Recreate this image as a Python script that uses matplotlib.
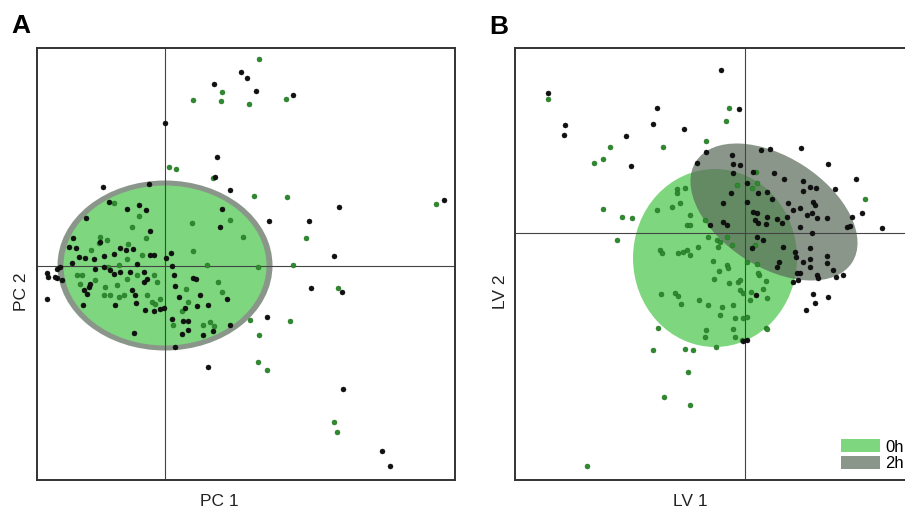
import matplotlib
matplotlib.use("Agg")
import matplotlib.pyplot as plt
from matplotlib.patches import Ellipse, Patch
import numpy as np

plt.rcParams['font.family'] = ['Liberation Sans', 'DejaVu Sans']

# ---------------- Panel A (PCA) data ----------------
pca_black_x = [7.6, 8.2, 4.9, 9.1, 12.8, 0.0, 5.2, 5.0, 6.5, 27.9, 17.4, 10.4, 14.4, 16.9, -6.2, -1.6,
               14.6, 17.7, 10.2, 4.3, 17.8, 21.7, 22.5, -11.8, -11.8, -11.7, -10.8, -10.3, -5.6, -2.6,
               -3.8, -1.9, -7.9, -1.5, -9.2, -9.6, -6.5, -4.5, -3.9, -3.2, -1.5, -1.1, -8.9, -8.6,
               -8.0, -7.1, -6.1, -5.1, -9.3, -2.8, 5.7, 5.5, 0.6, 0.1, 0.7, -11.0, -8.2, -5.0,
               -3.1, -2.9, -2.0, -1.1, -8.1, -7.6, -7.5, -7.8, -7.0, -6.1, -5.5, -5.1, -4.5, -3.5,
               -2.1, -1.8, -2.1, -3.3, -3.0, -0.5, -0.1, -10.8, -10.5, 0.9, 1.0, 1.4, 0.7, 1.8,
               2.3, 1.7, 2.3, 3.8, 4.8, 6.5, 1.0, 2.8, 3.1, 3.5, 3.2, 4.3, 6.2, 2.0]
pca_black_y = [19.4, 18.8, 18.2, 17.5, 17.1, 14.3, 10.9, 8.9, 7.6, 6.6, 5.9, 4.5, 4.5, 1.0, 7.9, 8.2,
               -2.2, -2.6, -5.1, -10.1, -12.3, -18.5, -20.0, -3.3, -0.7, -1.1, -1.2, -1.4, 6.4, 6.1,
               5.7, 5.6, 4.8, 3.5, 2.8, 1.9, 2.4, 1.8, 1.6, 1.7, 1.1, 1.1, 1.8, 0.9,
               0.8, 0.7, 1.0, 1.2, 0.3, 0.2, 5.7, 3.9, 1.3, 0.8, 0.0, -1.1, -3.9, -3.9,
               -6.7, -3.7, -4.4, -4.5, -2.4, -2.1, -1.8, -2.8, -0.3, -0.1, -0.4, -0.8, -0.6, -0.6,
               -0.6, -1.3, -1.6, -2.4, -2.9, -4.3, -4.2, -0.3, -0.1, -0.9, -2.0, -3.1, -5.3, -5.5,
               -5.5, -6.8, -6.4, -6.9, -6.5, -5.9, -8.1, -1.2, -1.3, -2.9, -4.0, -3.9, -3.3, -4.2]

pca_green_x = [9.4, 5.7, 2.8, 5.6, 8.4, 12.1, 0.4, 1.1, 4.8, 8.9, 12.2, 27.1, 14.1, 12.8, 9.3, 17.3,
               12.5, 8.5, 9.4, 9.3, 10.2, 16.9, 17.2, -5.1, -2.6, -3.3, -1.9, -6.5, -5.8, -6.6,
               -7.4, -3.7, -3.8, -2.3, -5.7, -4.6, 2.7, 6.5, 7.8, 2.8, 4.2, -8.8, -8.3, -8.5,
               -7.0, -6.0, -4.8, -3.8, -5.5, -4.6, -4.1, -6.1, -1.8, -1.3, -1.0, -0.5, -2.8, -1.1,
               -0.8, 2.1, 5.3, 5.7, 2.3, 1.7, 0.8, 3.8, 4.5, 4.9]
pca_green_y = [20.7, 17.4, 16.6, 16.5, 16.2, 16.7, 9.9, 9.7, 8.8, 7.0, 6.9, 6.2, 2.8, 0.1, -0.1, -2.2,
               -5.5, -5.4, -6.9, -9.6, -10.4, -15.6, -16.6, 6.3, 5.0, 3.9, 2.8, 2.9, 2.6, 2.3,
               1.6, 2.2, 0.7, 1.1, -0.1, 0.1, 4.3, 4.6, 2.9, 1.5, 0.1, -0.9, -0.9, -1.8,
               -1.4, -2.1, -1.9, -1.3, -2.9, -3.1, -2.9, -2.9, -2.9, -3.6, -3.8, -3.3, -0.9, -0.9,
               -1.6, -2.3, -1.6, -2.6, -3.6, -4.5, -5.9, -5.9, -5.6, -6.0]

# ellipses: (center x, center y, width, height, angle)
pca_ellipse_2h = (0.0, 0.05, 21.5, 17.0, 0)
pca_ellipse_0h = (0.0, 0.05, 20.3, 16.0, 0)

# ---------------- Panel B (PLS-DA) data ----------------
lv_black_x = [-2.4, -19.7, -8.8, -0.6, -18.0, -18.1, -9.2, -6.1, -11.9, -11.4, -3.9, -4.8, 1.6, 2.5,
              5.6, 8.3, 11.1, 13.7, 11.7, 10.7, 10.2, 10.5, -1.3, -1.2, -0.5, -1.2, 0.8, 0.2, 2.9,
              3.9, 5.8, 6.5, 7.1, 9.0, 1.3, 2.2, 5.8, 0.2, -1.4, -2.2, 2.7, 4.3, 4.8, 5.5, 6.8,
              7.0, 6.7, 6.2, 7.2, 8.2, 0.8, 1.2, 2.2, 3.2, 4.2, 1.3, 2.1, 3.7, 5.5, 6.7, -2.2,
              -1.8, -3.5, 1.8, 3.8, 5.0, 6.5, 0.7, 1.0, 1.2, 5.1, 6.5, 8.2, 8.2, 5.8, 6.5, 3.4,
              3.2, 8.8, 9.1, 9.8, 7.2, 7.3, 5.5, 5.2, 5.3, 4.8, 6.8, 7.0, 8.3, 6.1, 1.1, 0.2, -0.2]
lv_black_y = [16.3, 14.0, 12.5, 12.4, 10.8, 9.8, 10.9, 10.4, 9.7, 6.7, 8.1, 7.0, 8.3, 8.4,
              8.5, 6.9, 5.4, 0.5, 2.0, 1.6, 0.6, 0.7, 7.8, 6.9, 6.8, 6.0, 6.1, 5.0, 6.0,
              5.4, 5.2, 4.6, 4.5, 4.4, 4.0, 4.1, 4.2, 3.1, 4.0, 3.0, 3.4, 3.0, 2.3, 2.5, 3.1,
              2.8, 2.0, 1.8, 1.5, 1.5, 2.1, 2.0, 1.6, 1.4, 1.6, 1.0, 0.9, 1.0, 0.6, 0.0, 1.1,
              0.8, 0.8, -0.7, -1.4, -1.9, -1.5, -1.5, 1.3, -0.4, -2.4, -2.6, -2.3, -3.0, -2.9, -3.4, -2.9,
              -3.4, -3.7, -4.4, -4.2, -4.2, -4.5, -4.0, -4.0, -4.7, -4.9, -6.1, -7.0, -6.4, -7.7, -6.2, -10.7, -10.8]

lv_green_x = [-19.7, -1.6, -1.9, -3.9, -13.5, -8.2, -14.2, -15.1, 12.0, -14.2, -12.3, -11.3, -12.8,
              -8.8, -7.3, -6.5, -6.8, -6.8, -6.0, -0.8, -5.8, -5.5, -3.7, -2.8, -1.8, -8.5, -5.8,
              -5.5, -4.7, -4.0, -5.5, 1.1, 1.2, 0.7, 1.2, 1.4, 2.1, 1.8, 2.2, 2.1, 0.6, 0.5,
              -8.3, -6.2, -2.7, -2.5, -1.3, -3.2, -1.8, -1.7, -2.6, -3.1, -1.6, -0.7, -0.5, 1.0,
              0.2, 1.3, -8.4, -7.0, -6.7, -6.4, -4.6, -3.7, -2.3, -2.5, -1.2, -1.0, -0.2, 0.2,
              -0.5, -0.2, -8.7, -3.9, -4.0, -1.2, -1.0, -0.3, -9.2, -6.0, -5.2, -2.9, 2.2, -5.7,
              -8.1, -5.5, -15.8, -6.7]
lv_green_y = [13.4, 12.5, 11.2, 9.2, 8.6, 8.6, 7.4, 7.0, 3.4, 2.4, 1.6, 1.5, -0.7,
              2.3, 2.6, 3.0, 4.4, 4.0, 4.5, 4.8, 0.8, 0.8, -0.4, -0.7, -0.4, -1.7, -1.7,
              -2.2, -1.4, 1.3, 1.8, 6.1, 5.0, 4.5, -3.1, -4.2, -4.8, -5.6, -6.5, -9.5, -5.9, -6.7,
              -2.0, -1.9, -1.4, -0.9, -1.2, -2.8, -3.2, -3.5, -3.8, -4.6, -5.0, -4.9, -4.7, -1.2,
              -2.9, -4.0, -6.1, -6.0, -6.3, -7.1, -6.7, -7.2, -7.4, -8.2, -7.2, -8.5, -8.5, -8.4,
              -5.7, -6.0, -9.5, -9.7, -10.4, -9.6, -10.4, -10.7, -11.7, -11.6, -11.7, -11.4, -9.6, -13.9,
              -16.4, -17.2, -23.3, -2.0]

lv_ellipse_0h = (-3.0, -2.5, 16.4, 17.8, 0)
lv_ellipse_2h = (2.9, 2.1, 18.6, 11.0, -33)

legend_labels = ["0h", "2h"]

# ---------------- styling ----------------
GREEN_FILL = '#7ed67e'
DARK_FILL = '#5a6a5a'
DARK_ALPHA = 0.7
GREEN_PT = '#2e8a2e'
BLACK_PT = '#111111'

fig = plt.figure(figsize=(9.05, 5.12), dpi=100)
axA = fig.add_axes([37 / 905, 32 / 512, 418 / 905, 432 / 512])
axB = fig.add_axes([515 / 905, 32 / 512, 418 / 905, 432 / 512])


def add_ellipse(ax, params, **kw):
    cx, cy, w, h, ang = params
    e = Ellipse((cx, cy), w, h, angle=ang, **kw)
    ax.add_patch(e)
    return e


def style_axes(ax, xlim, ylim):
    ax.set_xlim(*xlim)
    ax.set_ylim(*ylim)
    ax.set_xticks([])
    ax.set_yticks([])
    for s in ax.spines.values():
        s.set_color('#333333')
        s.set_linewidth(1.4)
    ax.axhline(0, color='#444444', lw=0.8, zorder=2)
    ax.axvline(0, color='#444444', lw=0.8, zorder=2)


# Panel A
style_axes(axA, (-12.8, 29.0), (-21.4, 21.8))
add_ellipse(axA, pca_ellipse_2h, facecolor=DARK_FILL, alpha=DARK_ALPHA, edgecolor='none', zorder=1)
add_ellipse(axA, pca_ellipse_0h, facecolor=GREEN_FILL, edgecolor='none', zorder=1.5)
axA.scatter(pca_green_x, pca_green_y, s=13, color=GREEN_PT, edgecolors='#1f6a1f', linewidths=0.3, zorder=3)
axA.scatter(pca_black_x, pca_black_y, s=13, color=BLACK_PT, edgecolors='#000000', linewidths=0.3, zorder=3)

# Panel B
style_axes(axB, (-23.0, 18.8), (-24.7, 18.5))
add_ellipse(axB, lv_ellipse_0h, facecolor=GREEN_FILL, edgecolor='none', zorder=1)
add_ellipse(axB, lv_ellipse_2h, facecolor=DARK_FILL, alpha=DARK_ALPHA, edgecolor='none', zorder=1.5)
axB.scatter(lv_green_x, lv_green_y, s=13, color=GREEN_PT, edgecolors='#1f6a1f', linewidths=0.3, zorder=3)
axB.scatter(lv_black_x, lv_black_y, s=13, color=BLACK_PT, edgecolors='#000000', linewidths=0.3, zorder=3)

handles = [Patch(facecolor=GREEN_FILL, edgecolor='none'),
           Patch(facecolor=DARK_FILL, alpha=DARK_ALPHA, edgecolor='none')]
axB.legend(handles, legend_labels, loc='lower left', bbox_to_anchor=(0.78, 0.02),
           frameon=False, fontsize=12, handlelength=2.35, handleheight=0.8,
           handletextpad=0.3, labelspacing=0.1, borderpad=0, borderaxespad=0)

# labels
fig.text(219 / 905, 1 - 502 / 512, 'PC 1', ha='center', va='center', fontsize=12.5, color='#222222')
fig.text(690 / 905, 1 - 502 / 512, 'LV 1', ha='center', va='center', fontsize=12.5, color='#222222')
fig.text(21 / 905, 1 - 292 / 512, 'PC 2', ha='center', va='center', rotation=90, fontsize=12.5, color='#222222')
fig.text(500 / 905, 1 - 292 / 512, 'LV 2', ha='center', va='center', rotation=90, fontsize=12.5, color='#222222')
fig.text(21 / 905, 1 - 26 / 512, 'A', ha='center', va='center', fontsize=19, fontweight='bold')
fig.text(499 / 905, 1 - 27 / 512, 'B', ha='center', va='center', fontsize=19, fontweight='bold')

fig.savefig('out.png', dpi=100)
